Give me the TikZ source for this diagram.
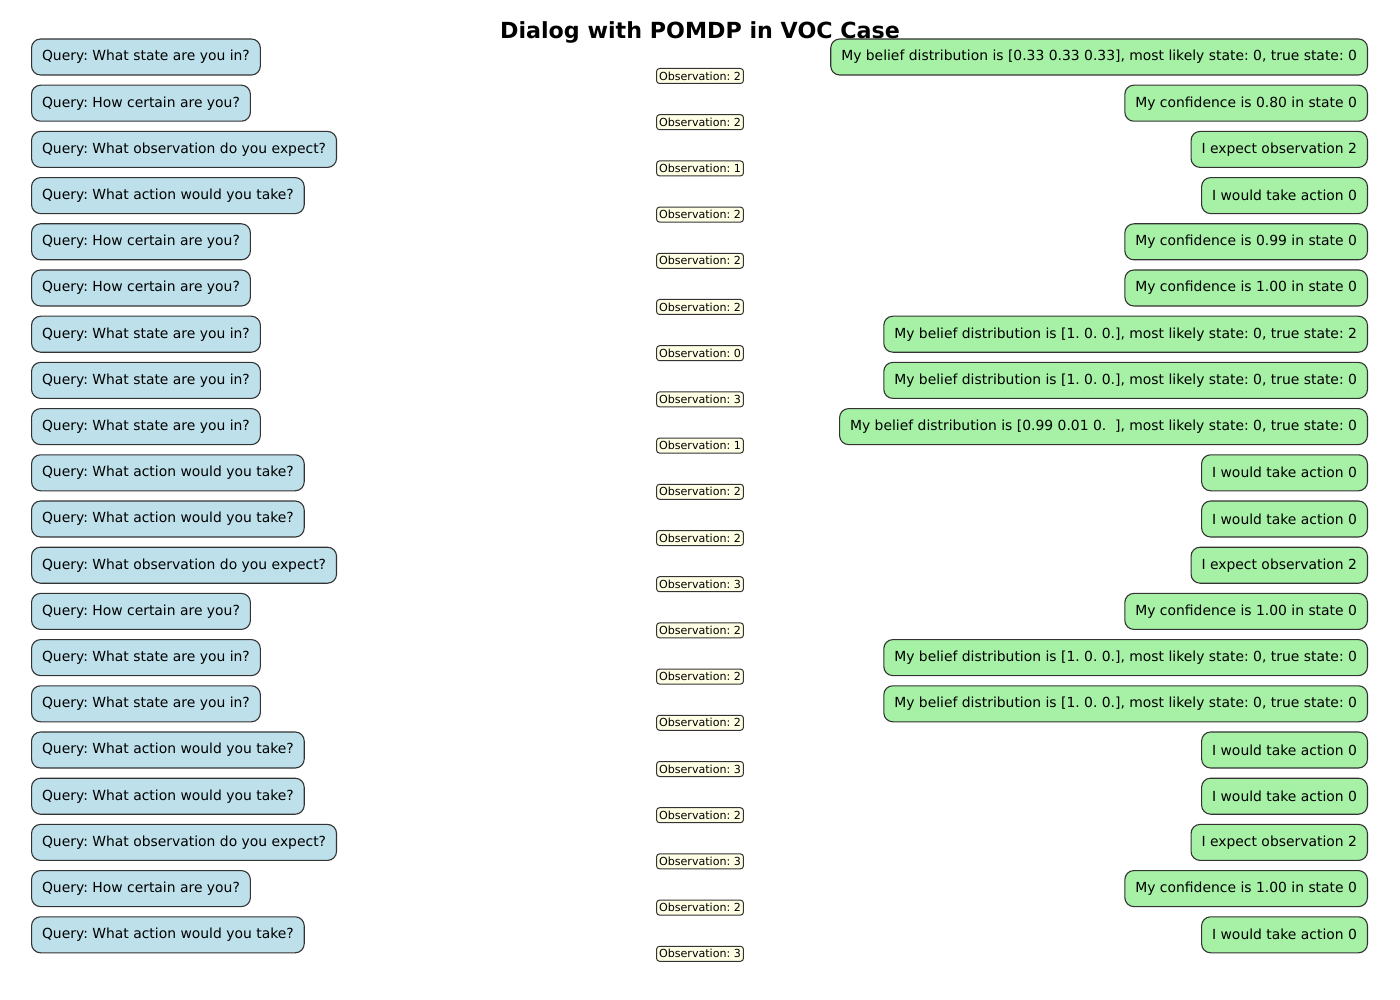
\documentclass[tikz,border=0pt]{standalone}
\usepackage{fontspec}
\setmainfont{DejaVu Sans}
\frenchspacing
\definecolor{qfill}{RGB}{189,224,235}
\definecolor{afill}{RGB}{166,241,166}
\definecolor{ofill}{RGB}{255,255,230}
\definecolor{edge}{RGB}{51,51,51}
\tikzset{
  qbox/.style={draw=edge, line width=1.1pt, fill=qfill, rounded corners=9pt, anchor=west,
    inner xsep=10.5pt, inner ysep=0pt, minimum height=36pt, font=\fontsize{13.9}{16}\selectfont},
  abox/.style={draw=edge, line width=1.1pt, fill=afill, rounded corners=9pt, anchor=east,
    inner xsep=10.5pt, inner ysep=0pt, minimum height=36pt, font=\fontsize{13.9}{16}\selectfont},
  obox/.style={draw=edge, line width=1pt, fill=ofill, rounded corners=3pt, anchor=center,
    inner xsep=2.5pt, inner ysep=0pt, minimum height=15pt, font=\fontsize{11.1}{13}\selectfont},
  ttl/.style={font=\fontsize{22.2}{26}\selectfont\bfseries, anchor=center}
}
\newcommand{\qa}{Query: What state are you in?}
\newcommand{\qb}{Query: How certain are you?}
\newcommand{\qc}{Query: What observation do you expect?}
\newcommand{\qd}{Query: What action would you take?}
\newcommand{\bel}[2]{My belief distribution is [#1], most likely state: 0, true state: #2}
\newcommand{\conf}[1]{My confidence is #1 in state 0}
\newcommand{\expo}{I expect observation 2}
\newcommand{\act}{I would take action 0}
\newcommand{\obs}[1]{Observation: #1}
\begin{document}
\begin{tikzpicture}[x=1pt,y=-1pt]
\useasboundingbox (0,0) rectangle (1400,1000);
\node[ttl] (title) at (700,32) {Dialog with POMDP in VOC Case};
% row 1
\node[qbox] (q1) at (31,57.0) {\qa};
\node[abox] (a1) at (1368,57.0) {\bel{0.33 0.33 0.33}{0}};
\node[obox] (o1) at (700,76.0) {\obs{2}};
% row 2
\node[qbox] (q2) at (31,103.2) {\qb};
\node[abox] (a2) at (1368,103.2) {\conf{0.80}};
\node[obox] (o2) at (700,122.2) {\obs{2}};
% row 3
\node[qbox] (q3) at (31,149.4) {\qc};
\node[abox] (a3) at (1368,149.4) {\expo};
\node[obox] (o3) at (700,168.4) {\obs{1}};
% row 4
\node[qbox] (q4) at (31,195.6) {\qd};
\node[abox] (a4) at (1368,195.6) {\act};
\node[obox] (o4) at (700,214.6) {\obs{2}};
% row 5
\node[qbox] (q5) at (31,241.8) {\qb};
\node[abox] (a5) at (1368,241.8) {\conf{0.99}};
\node[obox] (o5) at (700,260.8) {\obs{2}};
% row 6
\node[qbox] (q6) at (31,288.0) {\qb};
\node[abox] (a6) at (1368,288.0) {\conf{1.00}};
\node[obox] (o6) at (700,307.0) {\obs{2}};
% row 7
\node[qbox] (q7) at (31,334.2) {\qa};
\node[abox] (a7) at (1368,334.2) {\bel{1. 0. 0.}{2}};
\node[obox] (o7) at (700,353.2) {\obs{0}};
% row 8
\node[qbox] (q8) at (31,380.4) {\qa};
\node[abox] (a8) at (1368,380.4) {\bel{1. 0. 0.}{0}};
\node[obox] (o8) at (700,399.4) {\obs{3}};
% row 9
\node[qbox] (q9) at (31,426.6) {\qa};
\node[abox] (a9) at (1368,426.6) {\bel{0.99 0.01 0.\ \ }{0}};
\node[obox] (o9) at (700,445.6) {\obs{1}};
% row 10
\node[qbox] (q10) at (31,472.8) {\qd};
\node[abox] (a10) at (1368,472.8) {\act};
\node[obox] (o10) at (700,491.8) {\obs{2}};
% row 11
\node[qbox] (q11) at (31,519.0) {\qd};
\node[abox] (a11) at (1368,519.0) {\act};
\node[obox] (o11) at (700,538.0) {\obs{2}};
% row 12
\node[qbox] (q12) at (31,565.2) {\qc};
\node[abox] (a12) at (1368,565.2) {\expo};
\node[obox] (o12) at (700,584.2) {\obs{3}};
% row 13
\node[qbox] (q13) at (31,611.4) {\qb};
\node[abox] (a13) at (1368,611.4) {\conf{1.00}};
\node[obox] (o13) at (700,630.4) {\obs{2}};
% row 14
\node[qbox] (q14) at (31,657.6) {\qa};
\node[abox] (a14) at (1368,657.6) {\bel{1. 0. 0.}{0}};
\node[obox] (o14) at (700,676.6) {\obs{2}};
% row 15
\node[qbox] (q15) at (31,703.8) {\qa};
\node[abox] (a15) at (1368,703.8) {\bel{1. 0. 0.}{0}};
\node[obox] (o15) at (700,722.8) {\obs{2}};
% row 16
\node[qbox] (q16) at (31,750.0) {\qd};
\node[abox] (a16) at (1368,750.0) {\act};
\node[obox] (o16) at (700,769.0) {\obs{3}};
% row 17
\node[qbox] (q17) at (31,796.2) {\qd};
\node[abox] (a17) at (1368,796.2) {\act};
\node[obox] (o17) at (700,815.2) {\obs{2}};
% row 18
\node[qbox] (q18) at (31,842.4) {\qc};
\node[abox] (a18) at (1368,842.4) {\expo};
\node[obox] (o18) at (700,861.4) {\obs{3}};
% row 19
\node[qbox] (q19) at (31,888.6) {\qb};
\node[abox] (a19) at (1368,888.6) {\conf{1.00}};
\node[obox] (o19) at (700,907.6) {\obs{2}};
% row 20
\node[qbox] (q20) at (31,934.8) {\qd};
\node[abox] (a20) at (1368,934.8) {\act};
\node[obox] (o20) at (700,953.8) {\obs{3}};
\end{tikzpicture}
\end{document}
